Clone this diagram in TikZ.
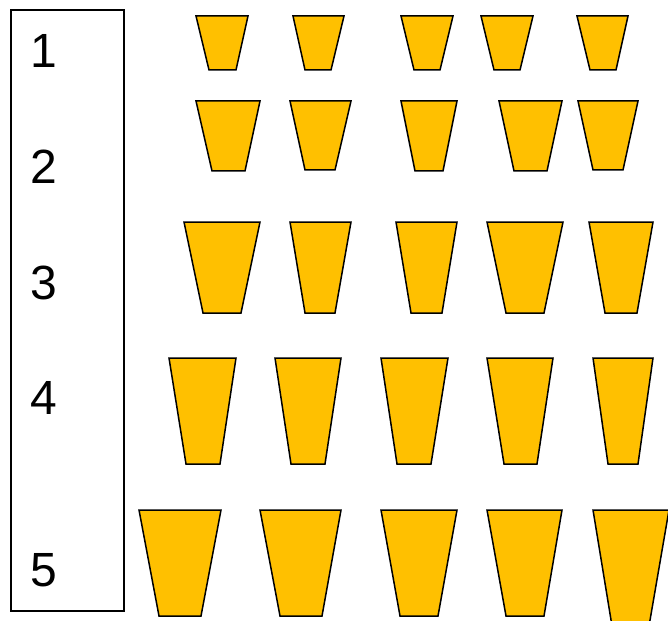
\documentclass[tikz,border=0pt]{standalone}
\usepackage{fontspec}
\setmainfont{Liberation Sans}
\definecolor{cupgold}{HTML}{FFC000}
\tikzset{
  cupshape/.style={fill=cupgold, draw=black, line width=1.5pt, line join=miter},
  framebox/.style={draw=black, line width=1.3pt},
  rowlabel/.style={font=\fontsize{48}{48}\selectfont, inner sep=0pt, anchor=center}
}
\newcommand{\drawcup}[6]{%
  \path[cupshape] (#3,#1) -- (#4,#1) -- (#6,#2) -- (#5,#2) -- cycle;}
\begin{document}
\begin{tikzpicture}[x=1pt,y=-1pt]
\useasboundingbox (0,0) rectangle (668,620);
\clip (0,0) rectangle (668,620);
\draw[framebox] (11,10) rectangle (124,611);
\node[rowlabel] (l1) at (44,51) {1};
\node[rowlabel] (l2) at (44,167) {2};
\node[rowlabel] (l3) at (44,283) {3};
\node[rowlabel] (l4) at (44,398) {4};
\node[rowlabel] (l5) at (44,570) {5};
% row 1
\drawcup{16}{70}{196}{248}{209}{236}
\drawcup{16}{70}{293}{344}{305}{331}
\drawcup{16}{70}{401}{453}{414}{440}
\drawcup{16}{70}{481}{533}{494}{520}
\drawcup{16}{70}{577}{628}{590}{616}
% row 2
\drawcup{101}{171}{196}{260}{212}{245}
\drawcup{101}{170}{290}{351}{305}{335}
\drawcup{101}{171}{401}{457}{415}{443}
\drawcup{101}{171}{499}{562}{514}{547}
\drawcup{101}{170}{578}{638}{593}{623}
% row 3
\drawcup{222}{313}{184}{260}{203}{241}
\drawcup{222}{313}{290}{351}{305}{335}
\drawcup{222}{313}{396}{457}{411}{442}
\drawcup{222}{313}{487}{563}{506}{544}
\drawcup{222}{313}{589}{653}{605}{637}
% row 4
\drawcup{358}{464}{169}{236}{186}{220}
\drawcup{358}{464}{275}{341}{291}{325}
\drawcup{358}{464}{381}{448}{397}{431}
\drawcup{358}{464}{487}{553}{504}{537}
\drawcup{358}{464}{593}{653}{608}{638}
% row 5
\drawcup{510}{616}{139}{221}{159}{201}
\drawcup{510}{616}{260}{341}{280}{322}
\drawcup{510}{616}{381}{457}{400}{438}
\drawcup{510}{616}{487}{562}{506}{544}
\drawcup{510}{626}{593}{669}{612}{649}
\end{tikzpicture}
\end{document}
